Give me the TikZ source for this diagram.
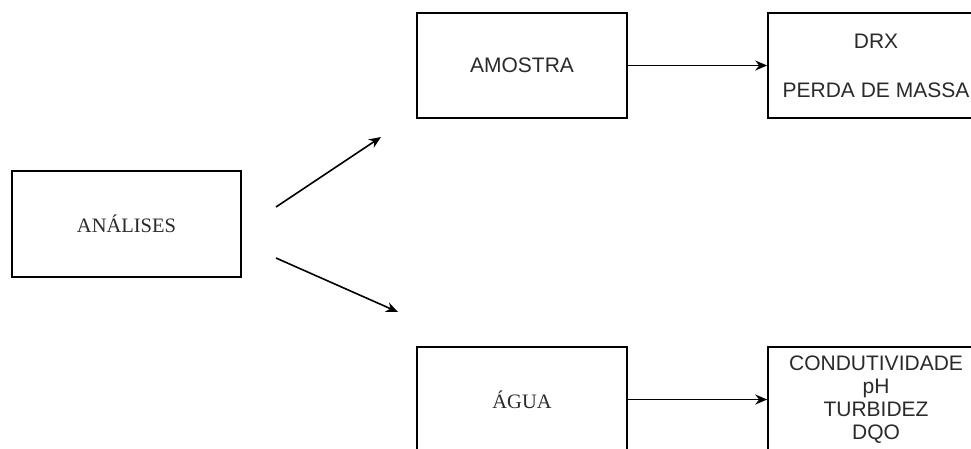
\documentclass[tikz,border=0pt]{standalone}
\usepackage{fontspec}
\setmainfont{Liberation Serif}
\newfontfamily\arialfont{Liberation Sans}
\usetikzlibrary{arrows.meta}
\definecolor{txt}{HTML}{2A2A2A}
\begin{document}
\begin{tikzpicture}[x=1pt,y=-1pt,
  box/.style={draw=black, line width=1.6pt, rectangle, inner sep=0pt, text=txt, align=center},
  serif/.style={font=\fontsize{20.5}{23}\selectfont},
  sans/.style={font=\arialfont\fontsize{21}{23}\selectfont},
  conn/.style={draw=black, line width=1.6pt, -{Stealth[length=12pt,width=10pt]}},
]
\useasboundingbox (0,0) rectangle (971,448);
\clip (0,0) rectangle (971,448);
\node[box, serif, minimum width=229pt, minimum height=106pt] (ana) at (126.5,224) {ANÁLISES};
\node[box, sans, minimum width=210pt, minimum height=105pt] (amo) at (522,65.5) {AMOSTRA};
\node[box, sans, minimum width=216pt, minimum height=105pt] (drx) at (876,65.5) {DRX\\[26pt]PERDA DE MASSA};
\node[box, serif, minimum width=210pt, minimum height=105pt] (agua) at (522,399.5) {ÁGUA};
\node[box, sans, minimum width=216pt, minimum height=105pt] (cond) at (876,399.5) {CONDUTIVIDADE\\pH\\TURBIDEZ\\DQO};
\coordinate (u1) at (276,207);
\coordinate (u2) at (381,137);
\coordinate (l1) at (276,258);
\coordinate (l2) at (398,312);
\draw[conn] (u1) -- (u2);
\draw[conn] (l1) -- (l2);
\draw[conn] (amo.east) -- (drx.west);
\draw[conn] (agua.east) -- (cond.west);
\end{tikzpicture}
\end{document}
